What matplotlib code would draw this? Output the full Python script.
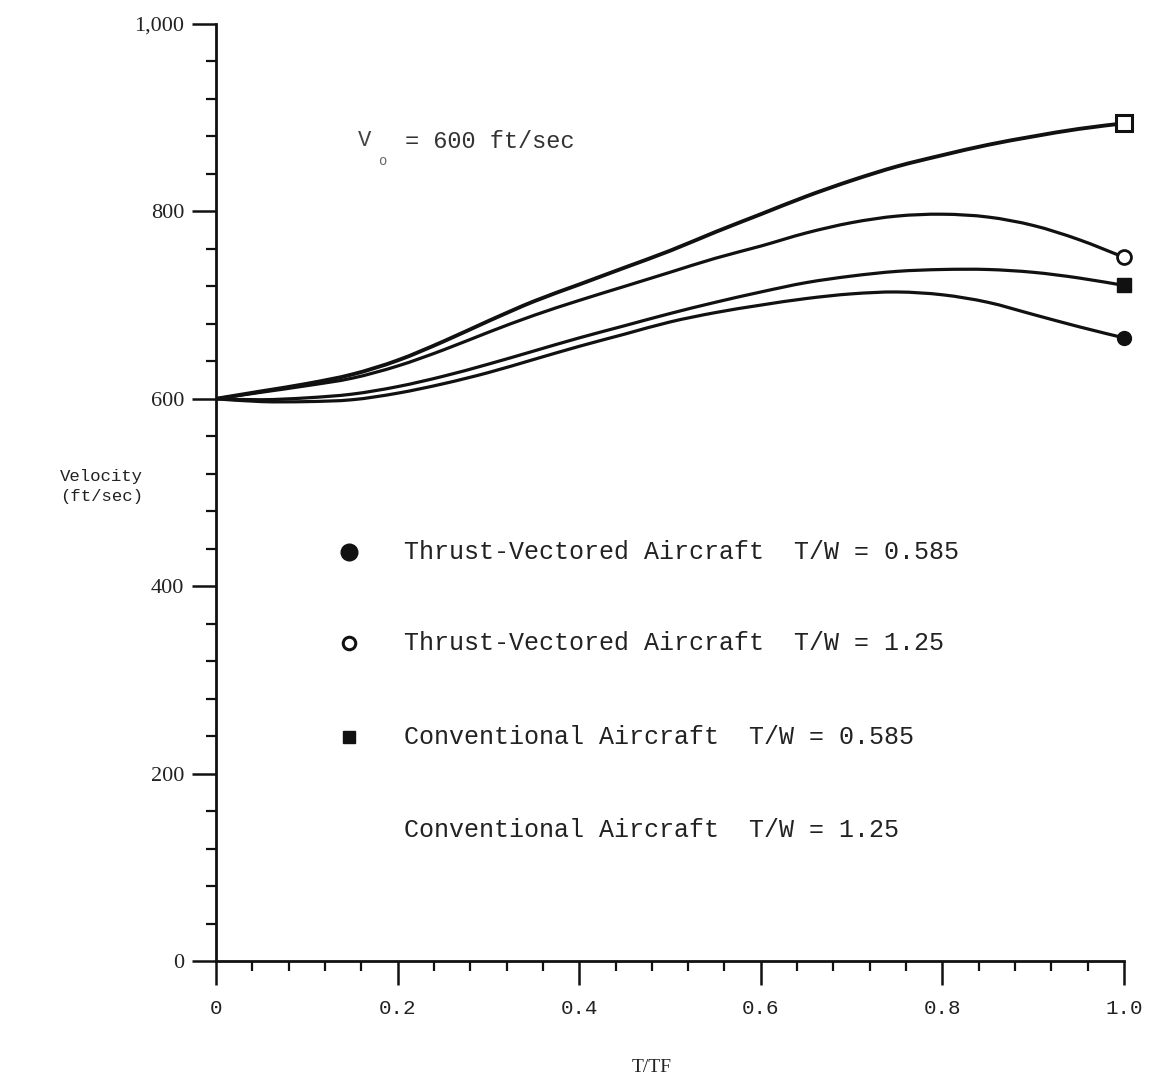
import matplotlib
matplotlib.use("Agg")
import matplotlib.pyplot as plt
from matplotlib.path import Path
from matplotlib.patches import PathPatch
import numpy as np

# ---- data ----
t_tf = [0.0, 0.05, 0.10, 0.15, 0.20, 0.25, 0.30, 0.35, 0.40, 0.45, 0.50,
        0.55, 0.60, 0.65, 0.70, 0.75, 0.80, 0.85, 0.90, 0.95, 1.00]
conv_125 = [600, 608, 616, 626, 641, 661, 683, 704, 722, 740, 758,
            778, 797, 816, 833, 848, 860, 871, 880, 888, 894]
tv_125 = [600, 607, 614, 622, 635, 652, 671, 689, 705, 720, 735,
          750, 763, 777, 788, 795, 797, 794, 785, 770, 751]
conv_0585 = [600, 599, 601, 605, 613, 624, 637, 651, 665, 678, 691,
             703, 714, 724, 731, 736, 738, 738, 735, 729, 721]
tv_0585 = [600, 597, 597, 599, 606, 616, 628, 642, 656, 669, 682,
           692, 700, 707, 712, 714, 711, 703, 690, 677, 665]

legend_labels = ["Thrust-Vectored Aircraft  T/W = 0.585",
                 "Thrust-Vectored Aircraft  T/W = 1.25",
                 "Conventional Aircraft  T/W = 0.585",
                 "Conventional Aircraft  T/W = 1.25"]
x_ticks = [0, 0.2, 0.4, 0.6, 0.8, 1.0]
x_tick_labels = ["0", "0.2", "0.4", "0.6", "0.8", "1.0"]
y_ticks = [0, 200, 400, 600, 800, 1000]
y_tick_labels = ["0", "200", "400", "600", "800", "1,000"]

W, H = 1154, 1084
fig = plt.figure(figsize=(W / 100, H / 100), dpi=100)
ax = fig.add_axes([216 / W, (H - 961) / H, 908 / W, (961 - 24) / H])
ax.set_xlim(0, 1.0)
ax.set_ylim(0, 1000)

ink = "#111111"


def smooth_path(xs, ys):
    """Cubic Bezier path (Catmull-Rom style) passing through the given points."""
    p = np.column_stack([xs, ys]).astype(float)
    verts = [p[0]]
    codes = [Path.MOVETO]
    n = len(p)
    for i in range(n - 1):
        p0 = p[i - 1] if i > 0 else p[i]
        p1 = p[i]
        p2 = p[i + 1]
        p3 = p[i + 2] if i + 2 < n else p[i + 1]
        c1 = p1 + (p2 - p0) / 6.0
        c2 = p2 - (p3 - p1) / 6.0
        verts += [c1, c2, p2]
        codes += [Path.CURVE4] * 3
    return Path(verts, codes)


for ys, lw in [(conv_125, 2.8), (tv_125, 2.3), (conv_0585, 2.3), (tv_0585, 2.3)]:
    ax.add_patch(PathPatch(smooth_path(t_tf, ys), fill=False, edgecolor=ink, lw=lw,
                           capstyle="round", joinstyle="round"))

ax.plot([t_tf[-1]], [conv_125[-1]], marker="s", ms=11, mfc="white", mec=ink, mew=2.2, zorder=5, clip_on=False)
ax.plot([t_tf[-1]], [tv_125[-1]], marker="o", ms=10, mfc="white", mec=ink, mew=2.0, zorder=5, clip_on=False)
ax.plot([t_tf[-1]], [conv_0585[-1]], marker="s", ms=10, mfc=ink, mec=ink, zorder=5, clip_on=False)
ax.plot([t_tf[-1]], [tv_0585[-1]], marker="o", ms=10, mfc=ink, mec=ink, zorder=5, clip_on=False)

for s in ["top", "right"]:
    ax.spines[s].set_visible(False)
for s in ["left", "bottom"]:
    ax.spines[s].set_linewidth(2.0)
    ax.spines[s].set_color(ink)

ax.set_xticks(x_ticks)
ax.set_xticklabels(x_tick_labels, family="Liberation Mono", fontsize=15, color="#222222")
ax.set_xticks(np.arange(0, 1.0001, 0.04), minor=True)
ax.set_yticks(y_ticks)
ax.set_yticklabels(y_tick_labels, family="Liberation Serif", fontsize=16, color="#222222")
ax.set_yticks(np.arange(0, 1000.1, 40), minor=True)
ax.tick_params(axis="both", which="major", direction="out", length=17, width=1.8, color=ink)
ax.tick_params(axis="both", which="minor", direction="out", length=7, width=1.6, color=ink)
ax.tick_params(axis="x", which="major", pad=10)
ax.tick_params(axis="y", which="major", pad=6)

# axis labels
fig.text(652 / W, 1 - 1067 / H, "T/TF", family="Liberation Serif", fontsize=14,
         ha="center", va="center", color="#222222")
fig.text(60 / W, 1 - 477 / H, "Velocity", family="Liberation Mono", fontsize=12.5,
         ha="left", va="center", color="#222222")
fig.text(60 / W, 1 - 497 / H, "(ft/sec)", family="Liberation Mono", fontsize=12.5,
         ha="left", va="center", color="#222222")

# V0 annotation
fig.text(365 / W, 1 - 141 / H, "V", family="Liberation Mono", fontsize=16,
         ha="center", va="center", color="#444444")
fig.text(382 / W, 1 - 161 / H, "o", family="Liberation Mono", fontsize=10,
         ha="center", va="center", color="#666666")
fig.text(405 / W, 1 - 141 / H, "= 600 ft/sec", family="Liberation Mono", fontsize=17,
         ha="left", va="center", color="#333333")

# legend block
leg_y = [552, 643, 737, 830]
marker_specs = [dict(marker="o", ms=12, mfc=ink, mec=ink),
                dict(marker="o", ms=9, mfc="white", mec=ink, mew=2.2),
                dict(marker="s", ms=9, mfc=ink, mec=ink),
                None]
for yy, lab, spec in zip(leg_y, legend_labels, marker_specs):
    if spec is not None:
        fig.lines.append(matplotlib.lines.Line2D([349 / W], [1 - yy / H], transform=fig.transFigure,
                                                 linestyle="none", **spec))
    fig.text(404 / W, 1 - yy / H, lab, family="Liberation Mono", fontsize=18,
             ha="left", va="center", color="#222222")

fig.savefig("out.png", dpi=100)
